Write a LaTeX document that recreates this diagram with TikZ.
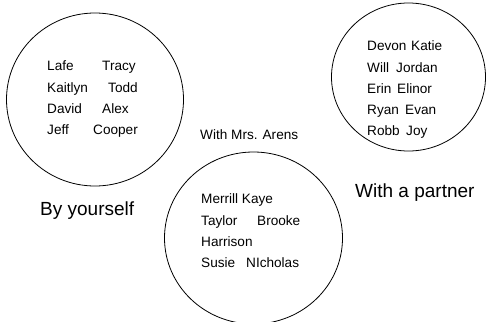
\documentclass[tikz,border=0pt]{standalone}
\usepackage{fontspec}
\setmainfont{Liberation Sans}
\begin{document}
\begin{tikzpicture}[x=1pt,y=-1pt,
  grp/.style={draw=black,line width=0.8pt},
  nm/.style={anchor=base west,inner sep=0pt,font=\fontsize{13.6}{16}\selectfont},
  lbl/.style={anchor=base west,inner sep=0pt,font=\fontsize{19}{22}\selectfont}]
\useasboundingbox (0,0) rectangle (486,321);
\begin{scope}
\clip (0,0) rectangle (486,321);
\draw[grp] (95,99.5) ellipse [x radius=88.5, y radius=86.5];
\draw[grp] (408.5,77) ellipse [x radius=77, y radius=74];
\draw[grp] (253.5,238) ellipse [x radius=89, y radius=86];
\end{scope}
% left group
\node[nm] (a1) at (47,70) {Lafe};
\node[nm] (a2) at (102,70) {Tracy};
\node[nm] (a3) at (47,92) {Kaitlyn};
\node[nm] (a4) at (108,92) {Todd};
\node[nm] (a5) at (47,113) {David};
\node[nm] (a6) at (102,113) {Alex};
\node[nm] (a7) at (47,134) {Jeff};
\node[nm] (a8) at (93,134) {Cooper};
\node[lbl] (la) at (40,215) {By yourself};
% right group
\node[nm] (b1) at (367,51) {Devon};
\node[nm] (b2) at (411,51) {Katie};
\node[nm] (b3) at (367,72) {Will};
\node[nm] (b4) at (396,72) {Jordan};
\node[nm] (b5) at (367,93) {Erin};
\node[nm] (b6) at (397,93) {Elinor};
\node[nm] (b7) at (367,114) {Ryan};
\node[nm] (b8) at (405,114) {Evan};
\node[nm] (b9) at (367,135) {Robb};
\node[nm] (b10) at (406,135) {Joy};
\node[lbl] (lb) at (355,197) {With a partner};
% bottom group
\node[nm] (c1) at (201,203) {Merrill Kaye};
\node[nm] (c2) at (201,225) {Taylor};
\node[nm] (c3) at (257,225) {Brooke};
\node[nm] (c4) at (201,246) {Harrison};
\node[nm] (c5) at (201,267) {Susie};
\node[nm] (c6) at (246,267) {NIcholas};
\node[nm] (lc) at (200,139) {With Mrs. Arens};
\end{tikzpicture}
\end{document}
